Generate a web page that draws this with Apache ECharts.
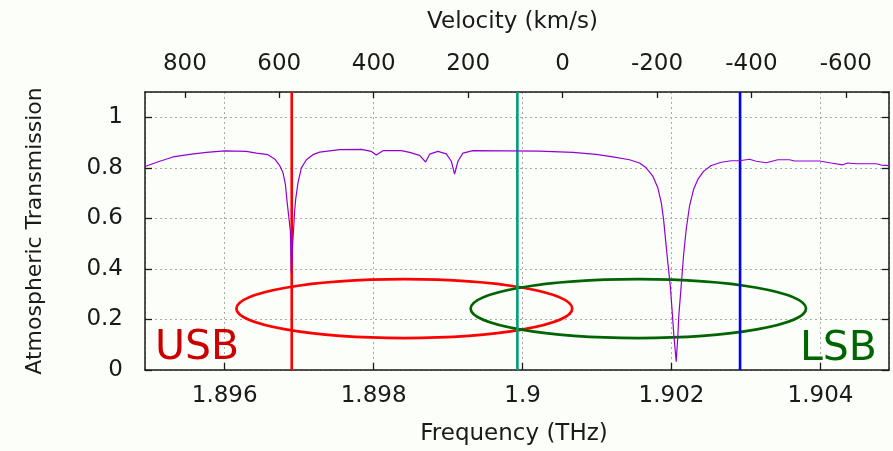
<!DOCTYPE html>
<html><head><meta charset="utf-8">
<script src="https://cdn.jsdelivr.net/npm/echarts@6/dist/echarts.min.js"></script>
<style>html,body{margin:0;padding:0;background:#fcfefa}#c{width:893px;height:451px}</style>
</head><body><div id="c"></div>
<script>
// ---- data ----
const freq = [1.89493,1.895128,1.895306,1.895530,1.895754,1.896000,1.896291,1.896426,1.896581,1.896671,1.896738,1.896783,1.896815,1.896836,1.896863,1.896882,1.896889,1.896895,1.896913,1.896940,1.896953,1.896984,1.897030,1.897097,1.897185,1.897275,1.897544,1.897835,1.897969,1.898036,1.898125,1.898372,1.898483,1.898617,1.898698,1.898752,1.898863,1.898976,1.899043,1.899087,1.899132,1.899199,1.899333,1.900228,1.900675,1.900989,1.901212,1.901436,1.901570,1.901660,1.901749,1.901816,1.901862,1.901893,1.901919,1.901950,1.901983,1.902009,1.902031,1.902063,1.902085,1.902098,1.902130,1.902161,1.902197,1.902242,1.902295,1.902353,1.902430,1.902533,1.902667,1.902801,1.902913,1.903047,1.903137,1.903271,1.903427,1.903584,1.903651,1.903987,1.904143,1.904299,1.904366,1.904479,1.904748,1.904815,1.90492];
const trans = [0.805,0.826,0.843,0.853,0.861,0.867,0.865,0.858,0.852,0.835,0.809,0.780,0.735,0.670,0.600,0.550,0.460,0.380,0.500,0.630,0.675,0.740,0.800,0.832,0.852,0.862,0.872,0.873,0.865,0.851,0.868,0.868,0.861,0.849,0.823,0.854,0.865,0.855,0.826,0.775,0.826,0.858,0.868,0.866,0.861,0.853,0.843,0.832,0.819,0.800,0.767,0.721,0.662,0.596,0.518,0.426,0.334,0.230,0.138,0.033,0.138,0.216,0.334,0.452,0.557,0.649,0.714,0.754,0.786,0.809,0.822,0.828,0.828,0.834,0.826,0.820,0.832,0.832,0.827,0.827,0.819,0.812,0.819,0.816,0.816,0.811,0.809];
const markerFreqs = [1.8969, 1.89993, 1.90292];          // USB line, LO, LSB line (THz)
const usbEllipse = [1.898412, 0.243, 0.002255, 0.1167];  // centre f, centre T, half-width f, half-height T
const lsbEllipse = [1.901554, 0.243, 0.002252, 0.1167];
const freqMin = 1.89493, freqMax = 1.90492;
const transMin = 0, transMax = 1.1;
const restFreq = 1.9005369;   // THz ([CII])
const cLight = 299792.458;    // km/s

// ---- chart ----
const velAt = f => cLight * (restFreq - f) / restFreq;
const FONT = 'DejaVu Sans';
const FS = 23;
const TXT = '#1a1a1a';
const AX = {lineStyle:{color:'#1a1a1a', width:1.5}, onZero:false, show:true};
const markerColors = ['#ff0000', '#009e73', '#0000ff'];

function ellipseSeries(e, color){
  return {
    type:'custom', xAxisIndex:0, yAxisIndex:0, z:1, silent:true, clip:false,
    data:[e], encode:{x:0, y:1},
    renderItem:(params, api)=>{
      const c = api.coord([api.value(0), api.value(1)]);
      const s = api.size([api.value(2), api.value(3)]);
      return {type:'ellipse', shape:{cx:c[0], cy:c[1], rx:s[0], ry:s[1]},
              style:{fill:'none', stroke:color, lineWidth:2.7}};
    }
  };
}

const markerSeries = markerFreqs.map((f,i)=>({
  type:'line', xAxisIndex:0, yAxisIndex:0, z:2, silent:true, showSymbol:false, symbol:'none',
  data:[[f, transMin],[f, transMax]],
  lineStyle:{color:markerColors[i], width:2.6}
}));

const chart = echarts.init(document.getElementById('c'), null, {renderer:'canvas'});
chart.setOption({
  animation:false,
  backgroundColor:'#fcfefa',
  grid:{left:145, right:4, top:92, bottom:79, containLabel:false},
  xAxis:[{
    type:'value', position:'bottom', min:freqMin, max:freqMax, splitNumber:5,
    axisLine:AX,
    axisTick:{inside:true, length:7, lineStyle:{color:'#1a1a1a', width:1.3}},
    axisLabel:{margin:15, fontSize:FS, fontFamily:FONT, color:TXT, showMinLabel:false, showMaxLabel:false},
    splitLine:{show:true, lineStyle:{color:'#a8a8a8', width:1, type:[2,3]}},
    name:'Frequency (THz)', nameLocation:'middle', nameGap:53,
    nameTextStyle:{fontSize:FS, fontFamily:FONT, color:TXT, padding:[0,6,0,0]}
  },{
    type:'value', position:'top', min:velAt(freqMax), max:velAt(freqMin), inverse:true, splitNumber:8,
    axisLine:AX,
    axisTick:{inside:true, length:6, lineStyle:{color:'#1a1a1a', width:1.3}},
    axisLabel:{margin:16, fontSize:FS, fontFamily:FONT, color:TXT, showMinLabel:false, showMaxLabel:false},
    splitLine:{show:false},
    name:'Velocity (km/s)', nameLocation:'middle', nameGap:58,
    nameTextStyle:{fontSize:FS, fontFamily:FONT, color:TXT, padding:[0,9,0,0]}
  }],
  yAxis:[{
    type:'value', position:'left', min:transMin, max:transMax, interval:0.2,
    axisLine:AX,
    axisTick:{inside:true, length:7, lineStyle:{color:'#1a1a1a', width:1.3}},
    axisLabel:{margin:22, fontSize:FS, fontFamily:FONT, color:TXT, showMaxLabel:false},
    splitLine:{show:true, lineStyle:{color:'#a8a8a8', width:1, type:[2,3]}},
    name:'Atmospheric Transmission', nameLocation:'middle', nameGap:99, nameRotate:90,
    nameTextStyle:{fontSize:22, fontFamily:FONT, color:TXT}
  },{
    type:'value', position:'right', min:transMin, max:transMax, interval:0.2,
    axisLine:AX,
    axisTick:{inside:true, length:7, lineStyle:{color:'#1a1a1a', width:1.3}},
    axisLabel:{show:false}, splitLine:{show:false}
  }],
  series:[
    ellipseSeries(usbEllipse, '#ff0000'),
    ellipseSeries(lsbEllipse, '#006400'),
    ...markerSeries,
    {
      type:'line', xAxisIndex:0, yAxisIndex:0, z:3, showSymbol:false, symbol:'none',
      data: freq.map((f,i)=>[f, trans[i]]),
      lineStyle:{color:'#9400d3', width:1.2}
    }
  ],
  graphic:[
    {type:'text', x:155, y:348, z:10, style:{text:'USB', fontSize:41, fontFamily:FONT, fill:'#cc0000', textAlign:'left', textVerticalAlign:'middle'}},
    {type:'text', x:800, y:349, z:10, style:{text:'LSB', fontSize:41, fontFamily:FONT, fill:'#006400', textAlign:'left', textVerticalAlign:'middle'}}
  ]
});
</script>
</body></html>
